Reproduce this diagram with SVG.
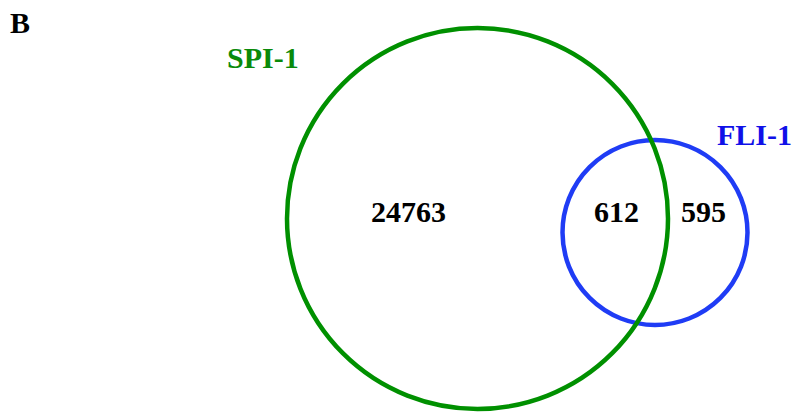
<svg xmlns="http://www.w3.org/2000/svg" width="795" height="412" viewBox="0 0 795 412">
<style>
text{font-family:"Liberation Serif","Times New Roman",serif;font-weight:bold;font-size:30px}
.c{fill:none;stroke-width:4.5}
</style>
<rect width="795" height="412" fill="#fff"/>
<text x="10" y="33" font-size="28">B</text>
<g id="fli1">
<circle class="c" cx="655" cy="232.5" r="92.5" stroke="#1f3cf5"/>
<text x="717" y="145" fill="#1010e8">FLI-1</text>
<text x="594" y="222">612</text>
<text x="681" y="222">595</text>
</g>
<g id="spi1">
<circle class="c" cx="477.5" cy="218.5" r="190.5" stroke="#009000"/>
<text x="227" y="68" fill="#0a8a0a">SPI-1</text>
<text x="371" y="222">24763</text>
</g>
<g id="connectors"/>
</svg>
